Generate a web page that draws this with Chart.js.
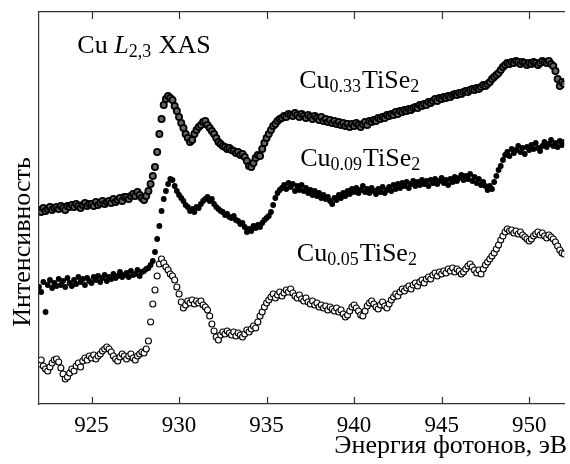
<!DOCTYPE html>
<html>
<head>
<meta charset="utf-8">
<script src="https://cdn.jsdelivr.net/npm/chart.js@4.4.1/dist/chart.umd.min.js"></script>
<style>
  html, body { margin: 0; padding: 0; background: #fff; }
  #wrap { width: 570px; height: 464px; }
</style>
</head>
<body>
<div id="wrap"><canvas id="chart" width="570" height="464"></canvas></div>
<script>
// photon energy grid, eV (8 samples per eV)
const energyStart = 922;
const energyStep = 0.125;
const energyTicks = [925, 930, 935, 940, 945, 950];

// intensities, arbitrary units, one row per eV
const cu033 = [
  194, 192, 196, 193, 195, 197, 194, 196,
  197, 195, 198, 196, 194, 198, 197, 199,
  197, 200, 198, 196, 199, 201, 198, 200,
  200, 198, 202, 199, 201, 203, 200, 202,
  203, 201, 205, 202, 204, 206, 203, 207,
  207, 205, 208, 210, 208, 212, 209, 206,
  204, 208, 213, 220, 228, 237, 252, 270,
  285, 299, 305, 308, 306, 304, 298, 293,
  287, 281, 276, 270, 266, 262, 264, 270,
  274, 277, 279, 282, 283, 279, 276, 273,
  270, 266, 262, 260, 258, 257, 255, 256,
  254, 253, 251, 252, 249, 250, 247, 243,
  238, 237, 241, 246, 249, 248, 255, 261,
  266, 270, 274, 278, 280, 283, 285, 286,
  288, 287, 290, 289, 288, 291, 289, 287,
  290, 288, 286, 289, 287, 285, 288, 286,
  284, 287, 283, 285, 282, 284, 281, 283,
  280, 282, 279, 281, 278, 280, 277, 280,
  278, 281, 279, 277, 280, 282, 279, 283,
  282, 284, 283, 286, 285, 287, 286, 289,
  288, 290, 289, 292, 290, 293, 292, 294,
  293, 295, 294, 296, 297, 296, 299, 298,
  300, 299, 302, 301, 303, 305, 303, 306,
  305, 307, 306, 308, 307, 309, 310, 309,
  311, 310, 312, 313, 312, 314, 315, 314,
  316, 315, 317, 319, 318, 320, 322, 325,
  327, 329, 331, 334, 337, 339, 341, 340,
  342, 341, 343, 342, 340, 342, 341, 339,
  341, 340, 342, 341, 339, 341, 343, 342,
  341, 343, 340, 338, 333, 325, 318, 322,
  320
];

const cu009 = [
  117, 112, 122, 92, 119, 124, 116, 121,
  118, 125, 119, 123, 117, 126, 121, 118,
  124, 120, 127, 122, 125, 119, 126, 123,
  121, 127, 124, 128, 122, 126, 129, 123,
  127, 125, 130, 126, 128, 132, 127, 129,
  131, 127, 133, 129, 130, 134, 128, 132,
  133, 135, 136, 139, 143, 152, 165, 178,
  193, 205, 213, 220, 225, 224, 218, 213,
  209, 206, 203, 199, 197, 193, 195, 192,
  197, 196, 200, 203, 205, 207, 203, 205,
  200, 197, 195, 193, 192, 189, 190, 187,
  186, 188, 184, 183, 180, 181, 177, 172,
  175, 173, 178, 176, 179, 177, 181, 184,
  186, 188, 192, 199, 206, 211, 214, 216,
  219, 215, 221, 217, 220, 213, 218, 214,
  219, 213, 216, 211, 214, 209, 213, 208,
  211, 206, 209, 205, 207, 203, 200, 206,
  204, 209, 206, 211, 208, 213, 210, 215,
  212, 216, 211, 214, 218, 212, 215, 211,
  216, 213, 210, 215, 212, 217, 211, 214,
  217, 213, 219, 215, 220, 216, 221, 218,
  222, 216, 220, 223, 218, 222, 219, 224,
  220, 223, 218, 224, 221, 225, 220, 223,
  226, 221, 224, 219, 225, 222, 227, 223,
  226, 229, 224, 228, 225, 230, 223, 227,
  221, 225, 219, 222, 218, 214, 218, 215,
  222, 228, 234, 238, 244, 249, 252, 248,
  255, 251, 254, 258, 252, 256, 250, 257,
  254, 259, 255, 261, 256, 253, 258, 262,
  257, 260, 264, 258, 261, 257, 263, 259,
  262
];

const cu005 = [
  40, 44, 38, 35, 33, 37, 41, 44,
  45, 42, 36, 30, 25, 27, 31, 35,
  33, 38, 41, 37, 43, 46, 44, 48,
  46, 49, 45, 48, 50, 53, 55, 57,
  55, 52, 48, 45, 43, 47, 50, 48,
  45, 48, 50, 46, 44, 48, 50, 52,
  51, 55, 63, 82, 100, 114, 128, 140,
  145, 141, 137, 134, 130, 128, 124, 117,
  110, 102, 96, 99, 103, 101, 104, 100,
  103, 101, 103, 99, 97, 94, 88, 80,
  73, 67, 64, 69, 72, 70, 73, 71,
  69, 72, 68, 71, 69, 67, 70, 74,
  72, 75, 78, 76, 82, 88, 92, 97,
  101, 104, 107, 110, 106, 109, 112, 108,
  111, 114, 112, 115, 111, 108, 106, 109,
  105, 103, 106, 102, 100, 103, 99, 101,
  97, 99, 96, 98, 94, 97, 95, 93,
  96, 92, 94, 90, 87, 89, 93, 97,
  99, 96, 93, 89, 88, 93, 98, 101,
  103, 100, 97, 95, 99, 102, 98, 96,
  100, 104, 107, 110, 108, 112, 115, 113,
  116, 118, 115, 119, 121, 118, 122, 124,
  121, 125, 127, 125, 129, 131, 128, 132,
  130, 133, 131, 135, 133, 136, 132, 135,
  133, 130, 132, 135, 138, 140, 137, 134,
  131, 134, 130, 135, 139, 142, 145, 148,
  151, 155, 159, 164, 168, 172, 175, 173,
  174, 171, 173, 170, 172, 169, 167, 165,
  163, 165, 168, 170, 172, 169, 171, 168,
  166, 169, 167, 165, 162, 158, 154, 151,
  150
];

const serif = '"Liberation Serif", "Times New Roman", serif';
const axisColor = '#333';

function toPoints(values) {
  return values.map(function (v, i) { return { x: energyStart + i * energyStep, y: v }; });
}

function keepTicks(scale) {
  scale.ticks = energyTicks.map(function (v) { return { value: v }; });
}

// text with subscripts / italics, anchored in data space
const annotations = [
  { e: 924.19, v: 351, parts: [{ t: 'Cu ' }, { t: 'L', it: true }, { t: '2,3', sub: true }, { t: ' XAS' }] },
  { e: 936.86, v: 316, parts: [{ t: 'Cu' }, { t: '0.33', sub: true }, { t: 'TiSe' }, { t: '2', sub: true }] },
  { e: 936.92, v: 238, parts: [{ t: 'Cu' }, { t: '0.09', sub: true }, { t: 'TiSe' }, { t: '2', sub: true }] },
  { e: 936.73, v: 143, parts: [{ t: 'Cu' }, { t: '0.05', sub: true }, { t: 'TiSe' }, { t: '2', sub: true }] }
];

const decorPlugin = {
  id: 'decor',
  afterDraw(chart) {
    const { ctx, chartArea, scales } = chart;
    ctx.save();
    // inward tick marks, top and bottom
    ctx.strokeStyle = axisColor;
    ctx.lineWidth = 1.2;
    scales.x.ticks.forEach(function (t) {
      const px = Math.round(scales.x.getPixelForValue(t.value)) + 0.5;
      ctx.beginPath();
      ctx.moveTo(px, chartArea.bottom);
      ctx.lineTo(px, chartArea.bottom - 7);
      ctx.moveTo(px, chartArea.top);
      ctx.lineTo(px, chartArea.top + 7);
      ctx.stroke();
    });

    ctx.fillStyle = '#000';
    ctx.textBaseline = 'alphabetic';
    ctx.textAlign = 'left';
    annotations.forEach(function (a) {
      let x = scales.x.getPixelForValue(a.e);
      const y = scales.y.getPixelForValue(a.v);
      a.parts.forEach(function (p) {
        ctx.font = (p.it ? 'italic ' : '') + (p.sub ? '18px ' : '26px ') + serif;
        ctx.fillText(p.t, x, p.sub ? y + 4 : y);
        x += ctx.measureText(p.t).width + (p.sub ? 1 : 0);
      });
    });

    // axis titles
    ctx.font = '26px ' + serif;
    ctx.textAlign = 'right';
    ctx.fillText('Энергия фотонов, эВ', chartArea.right + 3, chart.height - 11);

    ctx.translate(30, 242);
    ctx.rotate(-Math.PI / 2);
    ctx.textAlign = 'center';
    ctx.fillText('Интенсивность', 0, 0);
    ctx.restore();
  }
};

new Chart(document.getElementById('chart'), {
  type: 'scatter',
  data: {
    datasets: [
      {
        label: 'Cu0.05TiSe2',
        data: toPoints(cu005),
        order: 0,
        pointRadius: 3,
        pointBackgroundColor: '#fff',
        pointBorderColor: '#000',
        pointBorderWidth: 1.1
      },
      {
        label: 'Cu0.09TiSe2',
        data: toPoints(cu009),
        order: 1,
        pointRadius: 2.9,
        pointBackgroundColor: '#000',
        pointBorderColor: '#000',
        pointBorderWidth: 0
      },
      {
        label: 'Cu0.33TiSe2',
        data: toPoints(cu033),
        order: 2,
        pointRadius: 3.1,
        pointBackgroundColor: '#666',
        pointBorderColor: '#000',
        pointBorderWidth: 1.8
      }
    ]
  },
  options: {
    responsive: false,
    animation: false,
    devicePixelRatio: 1,
    layout: { padding: 0 },
    plugins: {
      legend: { display: false },
      tooltip: { enabled: false }
    },
    scales: {
      x: {
        type: 'linear',
        position: 'bottom',
        min: 922,
        max: 952,
        afterBuildTicks: keepTicks,
        afterFit: function (s) { s.height = 60; },
        grid: { display: false, drawTicks: false },
        border: { display: true, color: axisColor, width: 1.2 },
        ticks: {
          padding: 8,
          color: '#000',
          font: { family: serif, size: 23 },
          maxRotation: 0
        }
      },
      x2: {
        type: 'linear',
        position: 'top',
        min: 922,
        max: 952,
        afterBuildTicks: keepTicks,
        afterFit: function (s) { s.height = 12; },
        grid: { display: false, drawTicks: false },
        border: { display: true, color: axisColor, width: 1.2 },
        ticks: { display: false }
      },
      y: {
        min: 0,
        max: 392,
        afterFit: function (s) { s.width = 39; },
        grid: { display: false, drawTicks: false },
        border: { display: true, color: axisColor, width: 1.2 },
        ticks: { display: false }
      }
    }
  },
  plugins: [decorPlugin]
});
</script>
</body>
</html>
